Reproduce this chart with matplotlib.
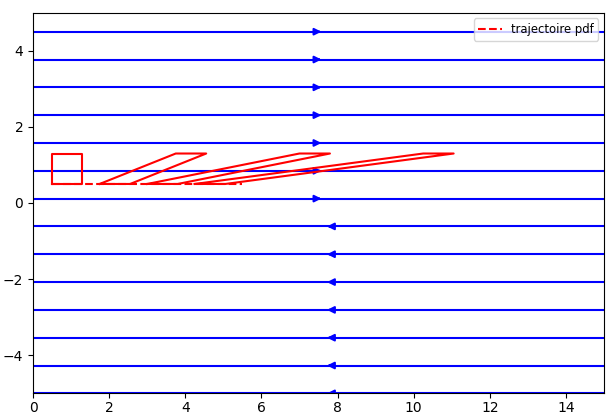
import matplotlib
matplotlib.use('Agg')
import matplotlib.pyplot as plt
import numpy as np

############################
# grille du champ de vitesse (cisaillement u = y, v = 0)
############################
x = np.arange(0, 15.31, 0.3)
y = np.arange(-5, 5, 0.5)

# carre initial et instants de deformation
carre_x = [0.5, 1.3]
carre_y = [0.5, 1.3]
temps = [0., 2.5, 5., 7.5]

# trajectoire du coin (0.5, 0.5)
traj_t = [0., 10.]

############################

X, Y = np.meshgrid(x, y)
U = Y
V = 0*Y

fig = plt.figure(figsize=(6.06, 4.12), dpi=100)
ax = fig.add_axes([33/606., 1-394/412., 571/606., 382/412.])

ax.streamplot(X, Y, U, V, density=(0.98, 0.47), color='b', linewidth=1.5)

x0, x1 = carre_x
y0, y1 = carre_y
for t in temps:
    px = [x0 + y0*t, x1 + y0*t, x1 + y1*t, x0 + y1*t, x0 + y0*t]
    py = [y0, y0, y1, y1, y0]
    ax.plot(px, py, 'r-', lw=1.5)

tt = np.array(traj_t)
ax.plot(x0 + y0*tt, y0 + 0*tt, 'r--', lw=1.5, label='trajectoire pdf')

ax.set_xlim(0, 15)
ax.set_ylim(-5, 5)
ax.set_aspect('equal')
ax.tick_params(axis='x', pad=2)
ax.legend(loc='upper right', fontsize='small')

plt.savefig('out.png')
